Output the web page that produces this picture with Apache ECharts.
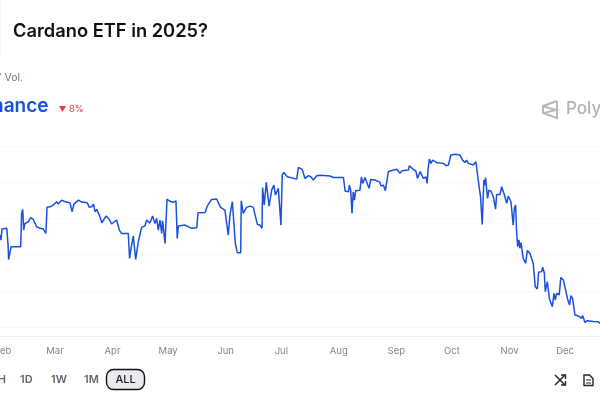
<!DOCTYPE html>
<html><head><meta charset="utf-8">
<style>html,body{margin:0;padding:0;background:#fff}#c{width:600px;height:400px}</style>
<script src="https://cdn.jsdelivr.net/npm/echarts@6/dist/echarts.min.js"></script>
</head><body><div id="c"></div>
<script>
const titleText = "Cardano ETF in 2025?";
const volumeText = "$127 Vol.";
const seriesName = "Binance";
const changeText = "8%";
const brandText = "Polymarket";
const monthLabels = ["Feb","Mar","Apr","May","Jun","Jul","Aug","Sep","Oct","Nov","Dec"];
const monthDays = [32,60,91,121,152,182,213,244,274,305,335];
const rangeButtons = ["1H","1D","1W","1M"];
const activeButton = "ALL";
const binance = [
[30.4,50.8],[30.9,48],[31.4,54.1],[34,54.5],[34.7,45.3],[35,37.3],[35.7,37.9],[36.3,44.3],[41.5,44.3],[42,62.8],[42.6,65],[43.1,53.5],[43.8,57.2],[45.6,58.1],[46.9,60.4],[48.3,59.4],[49,60.4],[50.1,55.4],[51.9,54.5],[53.7,54.1],[55.1,51.7],[55.7,66.1],[56.6,65.1],[57.3,66.4],[58.2,65.5],[59.1,67.4],[60,66.8],[60.9,69.2],[61.8,67.9],[63.6,70.1],[65.4,69.2],[68.1,68.6],[69.2,63.7],[70.2,67.9],[72.6,70.1],[74.4,69],[77.4,68.6],[78.5,66.1],[79.8,66.4],[80.7,67.9],[81.6,63.7],[82.5,65],[83.9,61.8],[85.2,57.6],[87.5,61.3],[89.3,59.4],[90.5,56.9],[93.2,59.1],[94.7,53.5],[95.9,51.7],[99.5,51.7],[100.2,37.9],[101.3,45.3],[102.2,50.2],[103.5,37.3],[104.9,47.1],[105.8,46.2],[106.7,55],[108.5,55.9],[109.4,59.1],[111.2,57.4],
[112.6,61.3],[113.9,57.2],[114.8,60],[115.7,53.5],[116.6,59.1],[117.5,51.7],[118,58.7],[119.3,46.2],[119.8,47.1],[120.4,70.7],[121.6,69.6],[122.3,69.2],[123.8,68.8],[125.2,69.7],[125.9,48.9],[126.5,55.8],[130.1,56.3],[133.7,54.5],[136.4,54.8],[137.1,63.1],[140.9,63.3],[142.1,66.8],[144.4,70.5],[147.1,70.7],[149.3,66.1],[151.6,64.6],[153.4,50.8],[154.3,61.8],[155.6,69.2],[156.5,68.6],[157.2,46.2],[158.3,41],[160.1,41],[160.4,69.7],[161.5,62.8],[163.3,66.1],[165.1,66.8],[166.9,66.1],[169.1,56.7],[170.5,56.3],[171.6,54.5],[171.9,77.1],[172.8,67.4],[173.9,79.9],[175.4,66.8],[176.8,75.6],[178,78.4],[178.8,72.9],[180.4,76.6],[181.8,56.3],[182.5,83.9],[183.4,85.4],[185.2,83],[190.3,81.7],[191.2,88.2],[192.1,88.5],
[193.2,87.1],[194.8,82.1],[196.6,83.6],[197.9,83],[199.3,81.2],[201.1,83.6],[202.9,83.9],[208.3,83.4],[210.1,82.6],[215.5,82.6],[216.4,75.1],[218.2,74.7],[218.7,78.4],[219.4,75.6],[220.1,62.8],[220.8,74.7],[221.4,70.1],[222.1,75.3],[224.4,75.6],[225.2,83],[225.9,79.3],[227.1,82.6],[228,83],[229.3,76.6],[230.2,81.5],[232.5,81.2],[234.9,80.2],[235.8,77.9],[237,78.4],[238.1,75.3],[239.7,85.8],[241,86.3],[244.2,87.1],[246,84.9],[246.9,86.3],[250.5,86.7],[251,89.1],[253.2,87.1],[254.5,86.3],[255.4,82.1],[256.8,85.8],[258.6,82.1],[260,83],[260.6,79.3],[261.1,86.7],[261.8,92.8],[262.7,90.4],[263.6,92.2],[266.1,90.7],[269.4,90.4],[270.8,89.1],[272.1,89.5],[272.9,90.4],[273.4,95],
[275.6,95.4],[278.3,95],[279.7,92.2],[281,90.9],[281.9,92.2],[282.8,90.4],[283.7,91.3],[285.5,89.5],[286.9,91.3],[287.8,90.9],[288.5,78.4],[289.4,72],[290.3,56.7],[291.2,81.2],[291.6,78.4],[292.1,82.5],[293.2,71],[293.9,75.6],[295,75.1],[296.3,72],[297.5,65.1],[298.1,73.2],[299.9,73.2],[300.8,77.5],[302.2,73.2],[303.5,68.3],[304.3,72.3],[305.8,69.2],[307,56.3],[307.6,65.5],[308.3,67.4],[308.8,53.6],[309.4,44.4],[310.1,48.1],[310.6,43.5],[311.2,46.6],[312.4,37.9],[313.7,35.2],[314.6,42.2],[316,40.7],[317.8,35.2],[318.9,22.3],[320,21],[320.7,30.2],[322.3,30.6],[322.9,33],[323.8,29.7],[324.3,19.5],[325.4,25],[326.5,15.8],[328.1,11.2],[329,18.6],[329.7,14.9],[330.4,18.6],[331.8,17.7],[332.7,27.4],[334,26],[335.3,20.4],[336.2,15.8],[336.7,16.8],[337.4,12.2],[338.1,17.3],[339,15.8],[340.3,6.6],[342.1,6.1],[343.9,4.8],[344.4,6.3],[345.7,2.6],[346.9,3.5],[350.2,3.1],[352.9,2.9],[353.8,2]
];

const FONT = "Inter";
const chart = echarts.init(document.getElementById('c'), null, {renderer:'canvas'});
const stroke = {stroke:'#23272e',lineWidth:1.4,fill:'none'};
chart.setOption({
  animation:false,
  backgroundColor:'#ffffff',
  grid:{left:0,right:0,top:146,bottom:73,containLabel:false,outerBoundsMode:'none'},
  xAxis:{type:'value',min:30.35,max:353.8,offset:9,
    axisLine:{show:true,onZero:false,lineStyle:{color:'#efefef',width:1}},
    axisTick:{show:false},splitLine:{show:false},
    axisLabel:{customValues:monthDays,color:'#7d8694',fontSize:9.5,fontFamily:FONT,margin:10,hideOverlap:false,
      formatter:v=>monthLabels[monthDays.indexOf(v)]}},
  yAxis:{type:'value',min:0,max:100,interval:20,
    axisLine:{show:false},axisTick:{show:false},axisLabel:{show:false},
    splitLine:{show:true,lineStyle:{color:'#f8f8f9',width:1}}},
  series:[{type:'line',name:seriesName,data:binance,showSymbol:false,symbol:'none',clip:false,
    lineStyle:{color:'#1a50dc',width:1.5},smooth:false}],
  graphic:[
    {type:'rect',shape:{x:0,y:0,width:1,height:55},style:{fill:'#f7f7f8'},silent:true},
    {type:'text',x:13,y:23,style:{text:titleText,fontFamily:FONT,fontSize:18.3,fontWeight:600,fill:'#0e1116'},silent:true},
    {type:'text',x:23,y:72,style:{text:volumeText,align:'right',fontFamily:FONT,fontSize:10.5,fill:'#6f7682'},silent:true},
    {type:'text',x:48.5,y:97,style:{text:seriesName,align:'right',fontFamily:FONT,fontSize:19,fontWeight:600,fill:'#1652e0'},silent:true},
    {type:'polygon',shape:{points:[[59,106],[66,106],[62.5,112]]},style:{fill:'#e0424e'},silent:true},
    {type:'text',x:69,y:104.5,style:{text:changeText,fontFamily:FONT,fontSize:9,fontWeight:500,fill:'#e0525c',letterSpacing:0.6},silent:true},
    {type:'polyline',shape:{points:[[557,101],[543,106],[543,113],[557,118],[557,101]]},style:{fill:'none',stroke:'#b4b9c0',lineWidth:2},silent:true},
    {type:'polyline',shape:{points:[[544,106.5],[556,110],[544,113]]},style:{fill:'none',stroke:'#b4b9c0',lineWidth:2},silent:true},
    {type:'text',x:566,y:100,style:{text:brandText,fontFamily:FONT,fontSize:17,fontWeight:500,fill:'#afb4bb'},silent:true},
    ...rangeButtons.map((b,i)=>({type:'text',x:[-7,20,51,84][i],y:374,
      style:{text:b,fontFamily:FONT,fontSize:11,fontWeight:600,fill:'#5c6675'},silent:true})),
    {type:'rect',shape:{x:106.5,y:369.5,width:38,height:20,r:7},style:{fill:'#e9ebee',stroke:'#111111',lineWidth:1.4},silent:true},
    {type:'text',x:125.5,y:374,style:{text:activeButton,align:'center',fontFamily:FONT,fontSize:11,fontWeight:500,fill:'#1a1d22'},silent:true},
    {type:'polyline',shape:{points:[[555,375],[565,385]]},style:stroke,silent:true},
    {type:'polyline',shape:{points:[[555,385],[565,375]]},style:stroke,silent:true},
    {type:'polyline',shape:{points:[[561,375],[565.5,375],[565.5,379]]},style:stroke,silent:true},
    {type:'polyline',shape:{points:[[561,385],[565.5,385],[565.5,381]]},style:stroke,silent:true},
    {type:'polygon',shape:{points:[[584,375],[589.5,375],[593,378.5],[593,385.5],[584,385.5]]},style:{fill:'#ffffff',stroke:'#23272e',lineWidth:1.4},silent:true},
    {type:'polyline',shape:{points:[[586,380],[591,380]]},style:{stroke:'#23272e',lineWidth:1,fill:'none'},silent:true},
    {type:'polyline',shape:{points:[[586,383],[591,383]]},style:{stroke:'#23272e',lineWidth:1,fill:'none'},silent:true}
  ]
});
</script></body></html>
